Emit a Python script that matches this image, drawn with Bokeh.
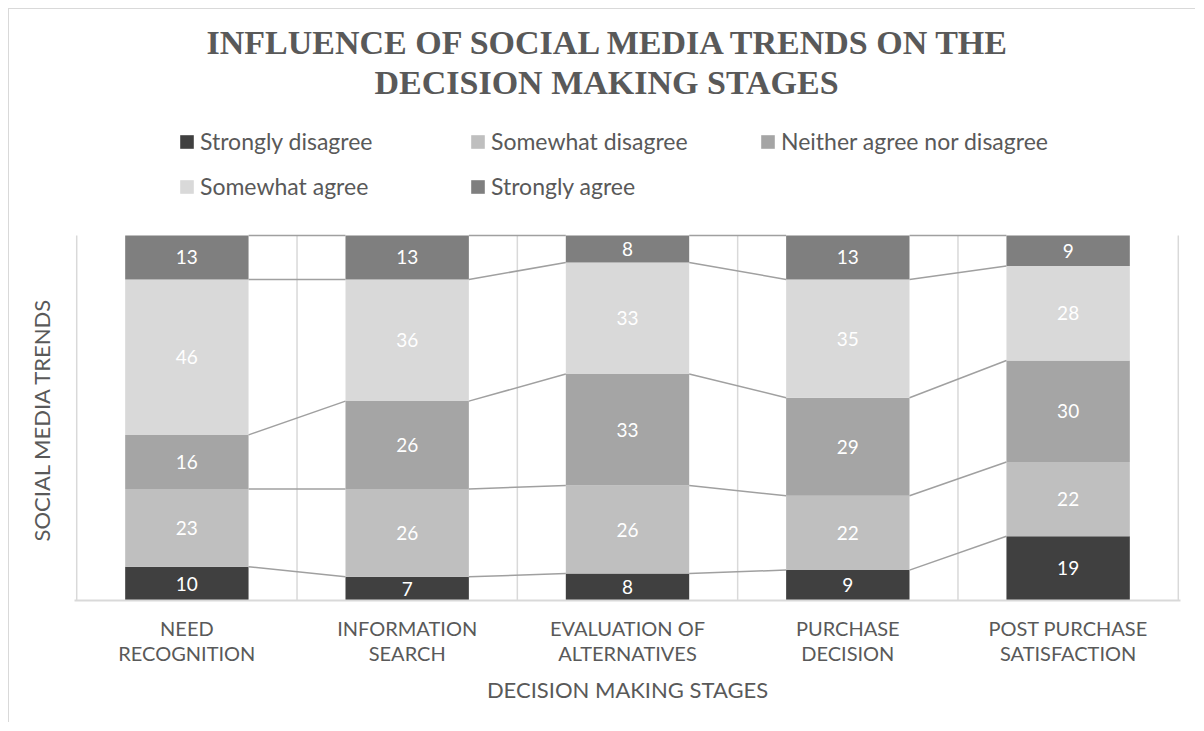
from bokeh.plotting import figure
from bokeh.models import Range1d, FixedTicker, Legend, LegendItem, ColumnDataSource, Title
from bokeh.embed import file_html
from bokeh.resources import INLINE
from bokeh.core.properties import value

# ---------------- data ----------------
stages = ["NEED\nRECOGNITION", "INFORMATION\nSEARCH", "EVALUATION OF\nALTERNATIVES",
          "PURCHASE\nDECISION", "POST PURCHASE\nSATISFACTION"]
series_names = ["Strongly disagree", "Somewhat disagree", "Neither agree nor disagree",
                "Somewhat agree", "Strongly agree"]
strongly_disagree = [10, 7, 8, 9, 19]
somewhat_disagree = [23, 26, 26, 22, 22]
neither_agree_nor_disagree = [16, 26, 33, 29, 30]
somewhat_agree = [46, 36, 33, 35, 28]
strongly_agree = [13, 13, 8, 13, 9]
colors = ["#404040", "#BFBFBF", "#A5A5A5", "#D9D9D9", "#7F7F7F"]

series = [strongly_disagree, somewhat_disagree, neither_agree_nor_disagree,
          somewhat_agree, strongly_agree]

title_line1 = "INFLUENCE OF SOCIAL MEDIA TRENDS ON THE"
title_line2 = "DECISION MAKING STAGES"
x_title = "DECISION MAKING STAGES"
y_title = "SOCIAL MEDIA TRENDS"

# ---------------- layout constants ----------------
n = len(stages)
totals = [sum(s[i] for s in series) for i in range(n)]
xs = list(range(n))
BAR_W = 0.56
GREY = "#595959"
FONT = "Lato"

W, H = 1187, 714
TOP, BOTTOM, LEFT, RIGHT = 105, 123, 64, 16
PLOT_PX = 365                       # pixel height of the 0..100 % area
frame_h = H - TOP - BOTTOM
y_end = 100 * frame_h / PLOT_PX     # extra room above 100 % for the legend

p = figure(width=W, height=H, output_backend="svg", toolbar_location=None,
           x_range=Range1d(-0.51, n - 0.49), y_range=Range1d(0, y_end),
           min_border_left=LEFT, min_border_right=RIGHT, min_border_top=TOP,
           min_border_bottom=BOTTOM, title=title_line1)
p.styles = {"margin-left": "8px", "margin-top": "8px",
            "border-left": "1px solid #D9D9D9", "border-top": "1px solid #D9D9D9"}
p.outline_line_color = None
p.background_fill_color = "white"
p.border_fill_color = "white"

def style_title(t, standoff, offset):
    t.align = "left"
    t.text_font = "Liberation Serif"
    t.text_font_style = "bold"
    t.text_font_size = "34px"
    t.text_color = GREY
    t.offset = offset
    t.standoff = standoff

style_title(p.title, -25, 132)

# category boundary lines (vertical gridlines limited to the plot area)
bounds = [i - 0.5 for i in range(n + 1)]
p.segment(x0=bounds, y0=[0] * len(bounds), x1=bounds, y1=[100] * len(bounds),
          line_color="#D9D9D9", line_width=1.5)

bottoms = [0.0] * n
levels = []
renderers = []
for k, s in enumerate(series):
    pct = [s[i] / totals[i] * 100 for i in range(n)]
    tops = [bottoms[i] + pct[i] for i in range(n)]
    src = ColumnDataSource(dict(x=xs, bottom=bottoms, top=tops,
                                mid=[(bottoms[i] + tops[i]) / 2 for i in range(n)],
                                lab=[str(v) for v in s]))
    r = p.vbar(x="x", bottom="bottom", top="top", width=BAR_W, source=src,
               fill_color=colors[k], line_color=None)
    renderers.append(r)
    p.text(x="x", y="mid", text="lab", source=src, text_align="center",
           text_baseline="middle", text_color="white", text_font=value(FONT),
           text_font_size="19px")
    levels.append(tops)
    bottoms = tops

# series lines
x0s, y0s, x1s, y1s = [], [], [], []
for lv in levels:
    for i in range(n - 1):
        x0s.append(xs[i] + BAR_W / 2)
        y0s.append(lv[i])
        x1s.append(xs[i + 1] - BAR_W / 2)
        y1s.append(lv[i + 1])
p.segment(x0=x0s, y0=y0s, x1=x1s, y1=y1s, line_color="#A0A0A0", line_width=1.5)

# x axis
p.xaxis.ticker = FixedTicker(ticks=xs)
p.xaxis.major_label_overrides = {i: stages[i] for i in range(n)}
p.xaxis.major_tick_out = 0
p.xaxis.major_tick_in = 0
p.xaxis.minor_tick_out = 0
p.xaxis.axis_line_color = "#D9D9D9"
p.xaxis.axis_line_width = 2
p.xaxis.major_label_text_font = FONT
p.xaxis.major_label_text_font_size = "20px"
p.xaxis.major_label_text_color = GREY
p.xaxis.major_label_text_line_height = 1.08
p.xaxis.major_label_standoff = 15
p.xaxis.axis_label = x_title
p.xaxis.axis_label_text_font = FONT
p.xaxis.axis_label_text_font_size = "22px"
p.xaxis.axis_label_text_font_style = "normal"
p.xaxis.axis_label_text_color = GREY
p.xaxis.axis_label_standoff = 8

p.yaxis.visible = False
p.xgrid.visible = False
p.ygrid.visible = False

# y title on the left, centred on the 0..100 % area
yt = Title(text=y_title, align="left", offset=59, standoff=36, vertical_align="top",
           text_font=FONT, text_font_size="22px", text_font_style="normal",
           text_color=GREY)
p.add_layout(yt, "left")

# legend: three equal-width columns, two rows
legend_cols = [[0, 3], [1, 4], [2]]
col_x = [104, 395, 685]
for c, idx in enumerate(legend_cols):
    lg = Legend(items=[LegendItem(label=series_names[k], renderers=[renderers[k]]) for k in idx],
                location=(col_x[c], 394 + 45 * (2 - len(idx))), orientation="vertical",
                label_text_font=FONT, label_text_font_size="23px", label_text_color=GREY,
                glyph_width=17, glyph_height=17, label_standoff=5, label_height=40,
                spacing=5, padding=0, margin=0, border_line_color=None,
                background_fill_alpha=0)
    p.add_layout(lg, "center")

t2 = Title(text=title_line2)
style_title(t2, 27, 300)
p.add_layout(t2, "above")

open("out.html", "w").write(file_html(p, INLINE))
